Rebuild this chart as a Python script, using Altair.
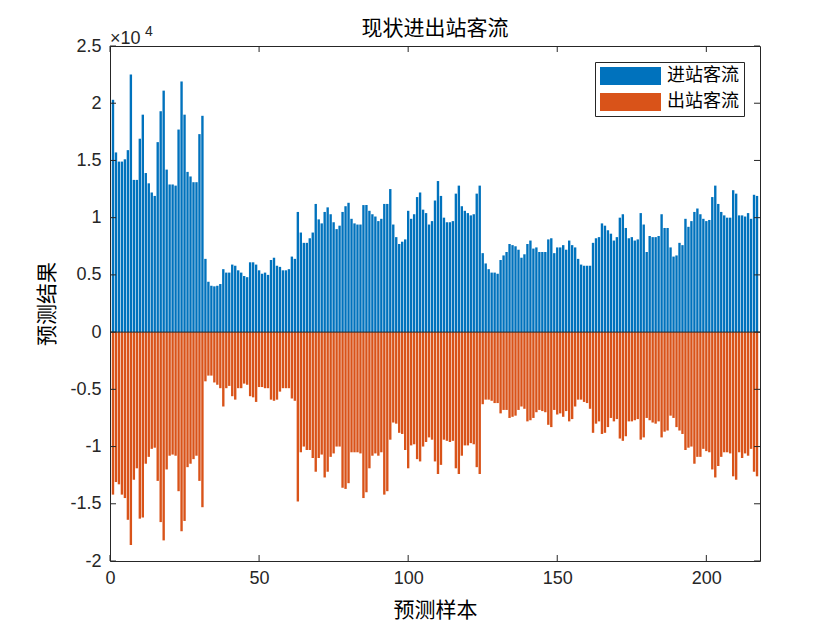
import altair as alt
import pandas as pd

# ---- data (units of 1e4) ----
samples = list(range(1, 218))
inbound = [
    2.03, 1.57, 1.49, 1.49, 1.51, 1.59, 2.25, 1.33, 1.33, 1.69,
    1.90, 1.39, 1.30, 1.22, 1.19, 1.66, 1.93, 2.11, 1.42, 1.29,
    1.29, 1.28, 1.77, 2.19, 1.90, 1.40, 1.36, 1.31, 1.31, 1.73,
    1.89, 0.64, 0.44, 0.405, 0.40, 0.405, 0.42, 0.55, 0.52, 0.52,
    0.59, 0.58, 0.54, 0.52, 0.49, 0.48, 0.61, 0.61, 0.59, 0.54,
    0.51, 0.52, 0.50, 0.63, 0.65, 0.58, 0.57, 0.54, 0.54, 0.55,
    0.66, 0.64, 1.05, 0.87, 0.78, 0.78, 0.82, 0.87, 1.12, 0.985,
    0.95, 1.05, 1.09, 1.03, 0.96, 0.90, 0.93, 1.05, 1.10, 1.13,
    0.99, 0.95, 0.94, 0.94, 1.11, 1.11, 1.06, 1.03, 1.01, 0.97,
    0.99, 1.12, 1.12, 1.25, 0.94, 0.83, 0.77, 0.79, 0.81, 1.06,
    0.99, 1.03, 1.18, 1.22, 1.07, 1.04, 0.94, 0.97, 1.15, 1.32,
    1.19, 1.00, 0.96, 0.96, 0.97, 1.21, 1.28, 1.10, 1.06, 1.04,
    1.02, 1.03, 1.21, 1.28, 0.69, 0.60, 0.55, 0.52, 0.52, 0.51,
    0.63, 0.67, 0.70, 0.77, 0.76, 0.75, 0.72, 0.65, 0.68, 0.77,
    0.80, 0.73, 0.74, 0.70, 0.70, 0.70, 0.81, 0.82, 0.69, 0.74,
    0.74, 0.76, 0.72, 0.80, 0.76, 0.74, 0.64, 0.59, 0.58, 0.58,
    0.58, 0.78, 0.82, 0.83, 0.95, 0.93, 0.89, 0.86, 0.80, 0.83,
    1.00, 1.03, 0.91, 0.82, 0.83, 0.80, 0.81, 1.04, 0.94, 0.70,
    0.84, 0.83, 0.83, 0.84, 1.03, 0.91, 0.91, 0.74, 0.66, 0.67,
    0.78, 0.76, 0.99, 0.92, 0.97, 1.05, 1.08, 1.03, 0.99, 0.97,
    0.98, 1.18, 1.28, 1.12, 1.05, 1.02, 1.00, 1.00, 1.24, 1.21,
    1.02, 1.02, 1.01, 1.04, 0.99, 1.20, 1.19,
]
outbound = [
    1.42, 1.31, 1.33, 1.42, 1.45, 1.64, 1.86, 1.29, 1.19, 1.63,
    1.62, 1.15, 1.09, 1.02, 1.01, 1.30, 1.66, 1.82, 1.20, 1.08,
    1.07, 1.08, 1.39, 1.74, 1.65, 1.18, 1.15, 1.11, 1.08, 1.30,
    1.53, 0.43, 0.38, 0.38, 0.44, 0.46, 0.49, 0.65, 0.49, 0.47,
    0.56, 0.59, 0.49, 0.49, 0.45, 0.46, 0.56, 0.57, 0.61, 0.48,
    0.48, 0.49, 0.49, 0.59, 0.60, 0.59, 0.52, 0.49, 0.49, 0.49,
    0.58, 0.60, 1.48, 1.05, 1.00, 1.03, 1.03, 1.10, 1.22, 1.10,
    1.07, 1.27, 1.22, 1.09, 1.06, 1.00, 1.00, 1.36, 1.37, 1.32,
    1.05, 1.05, 1.05, 1.06, 1.45, 1.40, 1.19, 1.08, 1.06, 1.08,
    1.05, 1.42, 1.39, 0.94, 0.79, 0.80, 0.88, 0.89, 1.03, 1.19,
    0.99, 0.98, 1.11, 1.13, 1.00, 0.96, 0.92, 0.94, 1.13, 1.24,
    1.16, 0.94, 0.95, 0.96, 0.95, 1.19, 1.24, 1.08, 0.99, 0.99,
    0.97, 0.98, 1.18, 1.24, 0.63, 0.59, 0.59, 0.60, 0.62, 0.62,
    0.71, 0.68, 0.68, 0.75, 0.74, 0.73, 0.68, 0.65, 0.67, 0.78,
    0.77, 0.75, 0.70, 0.68, 0.69, 0.70, 0.81, 0.83, 0.68, 0.72,
    0.71, 0.74, 0.69, 0.78, 0.76, 0.65, 0.59, 0.59, 0.61, 0.62,
    0.67, 0.88, 0.80, 0.78, 0.89, 0.88, 0.83, 0.75, 0.78, 0.76,
    0.93, 0.95, 0.91, 0.78, 0.78, 0.77, 0.76, 0.94, 0.92, 0.75,
    0.77, 0.79, 0.80, 0.78, 0.92, 0.87, 0.86, 0.73, 0.75, 0.83,
    0.86, 0.89, 1.03, 1.01, 1.00, 1.15, 1.09, 1.09, 1.02, 1.04,
    1.05, 1.20, 1.27, 1.17, 1.09, 1.05, 1.05, 1.06, 1.26, 1.29,
    1.05, 1.10, 1.06, 1.08, 1.02, 1.22, 1.26,
]
series_names = ["进站客流", "出站客流"]
series_colors = ["#0072BD", "#D95319"]
x_ticks = [0, 50, 100, 150, 200]
y_ticks = [-2, -1.5, -1, -0.5, 0, 0.5, 1, 1.5, 2, 2.5]
x_domain = [0, 218]
y_domain = [-2, 2.5]
bar_width = 0.8

rows = []
for s, a, b in zip(samples, inbound, outbound):
    rows.append({"x0": s - bar_width / 2, "x1": s + bar_width / 2, "value": a, "series": series_names[0]})
    rows.append({"x0": s - bar_width / 2, "x1": s + bar_width / 2, "value": -b, "series": series_names[1]})
df = pd.DataFrame(rows)

W, H = 650, 515
CJK = "Noto Sans CJK SC"
NUM = "Liberation Sans"
TXT = "#262626"
XT = "预测样本"
YT = "预测结果"

xs = alt.Scale(domain=x_domain, nice=False, zero=False)
ys = alt.Scale(domain=y_domain, nice=False)

bars = alt.Chart(df).mark_rect().encode(
    x=alt.X("x0:Q", scale=xs, title=XT,
            axis=alt.Axis(values=x_ticks, titleX=W / 2, titleY=49, titleBaseline="middle",
                          labelPadding=8, labelFlush=False)),
    x2="x1",
    y=alt.Y("value:Q", scale=ys, title=YT,
            axis=alt.Axis(values=y_ticks, labelExpr="'' + datum.value",
                          titleX=-63, titleY=H / 2, titleBaseline="middle",
                          titleAlign="center", labelPadding=9, labelFlush=False)),
    y2=alt.datum(0),
    color=alt.Color("series:N", scale=alt.Scale(domain=series_names, range=series_colors),
                    legend=alt.Legend(title=None, orient="none", legendX=485, legendY=16,
                                      symbolType="M-3.389,-1H3.389V1H-3.389Z", symbolSize=324,
                                      symbolOffset=21.5, labelOffset=27.5, rowPadding=8,
                                      padding=5, strokeColor=TXT, fillColor="white",
                                      labelFont=CJK, labelFontSize=18, labelColor="black",
                                      symbolStrokeWidth=0, symbolOpacity=1)),
)

zero_line = alt.Chart(pd.DataFrame({"y": [0]})).mark_rule(color=TXT, strokeWidth=1).encode(
    y=alt.Y("y:Q", title=YT)
)

yt = pd.DataFrame({"t": y_ticks})
xt = pd.DataFrame({"t": x_ticks})
tick_style = dict(color=TXT, strokeWidth=1)
yl = alt.Chart(yt).mark_rule(**tick_style).encode(y=alt.Y("t:Q", title=YT), x=alt.value(0), x2=alt.value(6))
yr = alt.Chart(yt).mark_rule(**tick_style).encode(y=alt.Y("t:Q", title=YT), x=alt.value(W - 6), x2=alt.value(W))
xb = alt.Chart(xt).mark_rule(**tick_style).encode(x=alt.X("t:Q", title=XT), y=alt.value(H - 6), y2=alt.value(H))
xtp = alt.Chart(xt).mark_rule(**tick_style).encode(x=alt.X("t:Q", title=XT), y=alt.value(0), y2=alt.value(6))

exp_base = alt.Chart(pd.DataFrame({"s": ["×10"]})).mark_text(
    align="left", baseline="alphabetic", font=NUM, fontSize=18, color=TXT
).encode(text="s:N", x=alt.value(0), y=alt.value(-2))
exp_pow = alt.Chart(pd.DataFrame({"s": ["4"]})).mark_text(
    align="left", baseline="alphabetic", font=NUM, fontSize=14, color=TXT
).encode(text="s:N", x=alt.value(35), y=alt.value(-10))

chart = alt.layer(bars, zero_line, yl, yr, xb, xtp, exp_base, exp_pow).properties(
    width=W, height=H, background="white",
    title=alt.TitleParams("现状进出站客流", font=CJK, fontSize=21, fontWeight="normal",
                          color="black", offset=-14, frame="group", anchor="middle"),
    padding={"left": 102, "top": 38, "right": 72, "bottom": 61},
    autosize=alt.AutoSizeParams(type="none"),
).configure_view(stroke=TXT, strokeWidth=1).configure_axis(
    labelFont=NUM, labelFontSize=18, labelColor=TXT,
    titleFont=CJK, titleFontSize=21, titleColor="black", titleFontWeight="normal",
    domain=False, ticks=False, tickSize=0, grid=False,
)

chart.save("out.html", embed_options={"renderer": "svg", "actions": False})
